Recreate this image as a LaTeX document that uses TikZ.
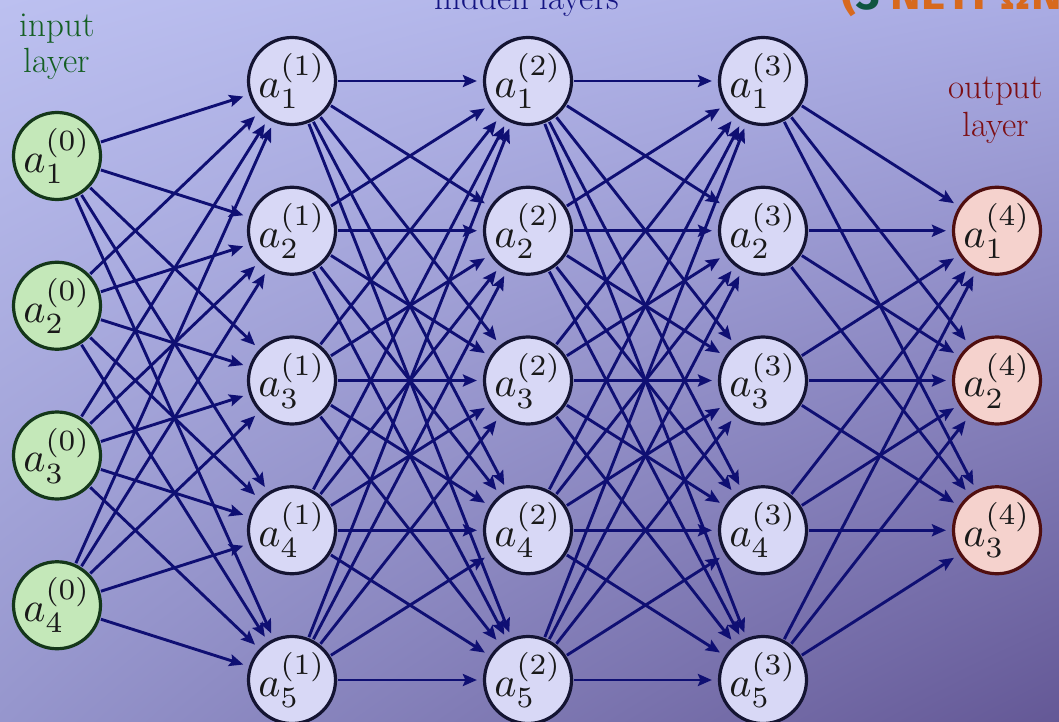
\documentclass[tikz,border=0pt]{standalone}
\usepackage{graphicx}
\usepackage{fontspec}
\newfontfamily\greekfont{Fira Sans}
\usetikzlibrary{arrows.meta}

\definecolor{edgecol}{RGB}{15,15,115}
\definecolor{infill}{RGB}{196,232,185}
\definecolor{inborder}{RGB}{20,55,25}
\definecolor{hidfill}{RGB}{216,216,246}
\definecolor{hidborder}{RGB}{20,20,50}
\definecolor{outfill}{RGB}{245,210,205}
\definecolor{outborder}{RGB}{80,15,15}
\definecolor{intext}{RGB}{20,95,35}
\definecolor{outtext}{RGB}{125,15,20}
\definecolor{hidtext}{RGB}{20,20,130}
\definecolor{orangetxt}{RGB}{215,105,30}
\definecolor{threegreen}{RGB}{15,85,65}
\definecolor{labelcol}{RGB}{25,25,25}

\pgfdeclarefunctionalshading{bgshade}{\pgfpoint{0bp}{0bp}}{\pgfpoint{100bp}{100bp}}{}{
 25 sub 50 div exch 25 sub 50 div exch
 1 index 0.125 mul 0.149 add 1 index mul 2 index -0.196 mul add 0.588 add 3 1 roll
 1 index 0.165 mul 0.165 add 1 index mul 2 index -0.243 mul add 0.588 add 3 1 roll
 1 index 0.169 mul 0.137 add 1 index mul 2 index -0.216 mul add 0.804 add 3 1 roll
 pop pop
}

\newcommand{\neu}[2]{\scalebox{4.2}{$a_{#1}^{(#2)}$}}

\tikzset{
 neuron/.style={circle, minimum size=83pt, inner sep=0pt, line width=3.2pt,
   text=labelcol},
 inp/.style={neuron, draw=inborder, fill=infill},
 hid/.style={neuron, draw=hidborder, fill=hidfill},
 outp/.style={neuron, draw=outborder, fill=outfill},
 conn/.style={draw=edgecol, line width=2.9pt,
   -{Stealth[length=14pt,width=12pt,inset=2.5pt]},
   shorten >=6pt, shorten <=1pt},
 lbl/.style={inner sep=0pt, anchor=base, font=\fontsize{35}{40}\selectfont},
}

\begin{document}
\begin{tikzpicture}[x=1pt,y=-1pt]
\useasboundingbox (0,0) rectangle (1059,722);
\clip (0,0) rectangle (1059,722);
\shade[shading=bgshade] (0,0) rectangle (1059,722);

% top texts (cut off by the frame, as in the reference)
\node[lbl, text=hidtext] (hid) at (527,10) {hidden layers};
\node[inner sep=0pt, anchor=base west, font=\greekfont\bfseries\fontsize{46}{52}\selectfont] (title) at (841,10)
  {\textcolor{orangetxt}{(}\textcolor{threegreen}{3} \textcolor{orangetxt}{ΝΕΥΡΩΝ}};

\node[lbl, text=intext] (in1) at (57,37) {input};
\node[lbl, text=intext] (in2) at (57,73) {layer};
\node[lbl, text=outtext] (out1) at (996,99) {output};
\node[lbl, text=outtext] (out2) at (996,137) {layer};

% neurons
\foreach \i in {1,...,4}
  \node[inp] (I\i) at (57,{156+(\i-1)*149.75}) {\neu{\i}{0}};
\foreach \l/\x in {1/292,2/528,3/763}
  \foreach \i in {1,...,5}
    \node[hid] (H\l-\i) at (\x,{81+(\i-1)*149.75}) {\neu{\i}{\l}};
\foreach \i in {1,2,3}
  \node[outp] (O\i) at (997,{230.75+(\i-1)*149.75}) {\neu{\i}{4}};

% connections
\foreach \i in {1,...,4}
  \foreach \j in {1,...,5}
    \draw[conn] (I\i) -- (H1-\j);
\foreach \l/\m in {1/2,2/3}
  \foreach \i in {1,...,5}
    \foreach \j in {1,...,5}
      \draw[conn] (H\l-\i) -- (H\m-\j);
\foreach \i in {1,...,5}
  \foreach \j in {1,2,3}
    \draw[conn] (H3-\i) -- (O\j);
\end{tikzpicture}
\end{document}
